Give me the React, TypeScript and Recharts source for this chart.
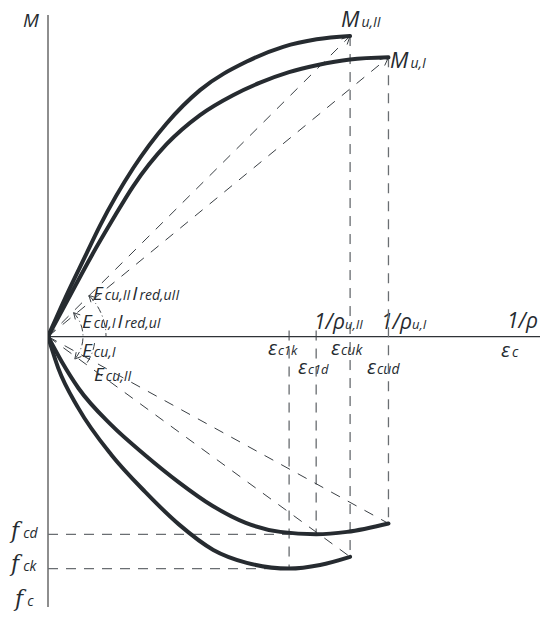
import {
  ComposedChart,
  Line,
  XAxis,
  YAxis,
  ReferenceLine,
  ReferenceDot,
  Customized,
} from 'recharts';

// curvature 1/ρ (x) against moment M (upper branches)
const kappaII = [0, 3.5, 7.5, 10.6, 17.3, 24.1, 30.9, 40.4, 47.8, 54.6, 61.4];
const momentII = [0, 12.8, 26.5, 37.0, 56.0, 70.9, 82.0, 91.5, 96.4, 98.9, 100.0];

const kappaI = [0, 4.1, 8.9, 13.0, 17.3, 24.1, 30.9, 37.7, 43.1, 49.0, 54.6, 61.4, 69.2];
const momentI = [0, 12.5, 27.0, 38.5, 50.0, 64.0, 73.7, 80.4, 84.5, 88.0, 90.3, 92.2, 92.9];

// strain ε_c (x) against concrete stress (negative = below the axis)
const strainD = [0, 2.8, 6.2, 12.9, 19.7, 26.6, 33.4, 40.2, 47.2, 54.5, 60.8, 69.2];
const stressD = [0, -8.4, -17.2, -29.5, -39.4, -48.5, -56.3, -62.0, -65.0, -65.8, -65.0, -62.2];

const strainK = [0, 2.1, 6.2, 12.9, 19.7, 26.6, 33.6, 40.4, 49.0, 55.3, 61.4];
const stressK = [0, -10.6, -23.9, -39.4, -51.6, -62.5, -71.0, -75.3, -77.2, -76.0, -73.3];

// characteristic points
const epsC1k = 49.0;
const epsC1d = 54.5;
const fcd = -65.8;
const fck = -77.2;

const toRows = (xs: number[], ys: number[]) => xs.map((x, i) => ({ x, y: ys[i] }));

const curveII = toRows(kappaII, momentII);
const curveI = toRows(kappaI, momentI);
const curveD = toRows(strainD, stressD);
const curveK = toRows(strainK, stressK);

const last = (rows: { x: number; y: number }[]) => rows[rows.length - 1];

const INK = '#262b30';
const DASH = '#3a3f44';
const FONT = '"Open Sans", "DejaVu Sans", sans-serif';

const ArrowSegment = (props: any) => {
  const { x1, y1, x2, y2 } = props;
  const a = Math.atan2(y2 - y1, x2 - x1);
  const len = 9;
  const h1 = { x: x2 - len * Math.cos(a - 0.45), y: y2 - len * Math.sin(a - 0.45) };
  const h2 = { x: x2 - len * Math.cos(a + 0.45), y: y2 - len * Math.sin(a + 0.45) };
  return (
    <g stroke={DASH} strokeWidth={1} fill="none">
      <line x1={x1} y1={y1} x2={x2} y2={y2} strokeDasharray="10 9" />
      <polyline points={`${h1.x},${h1.y} ${x2},${y2} ${h2.x},${h2.y}`} />
    </g>
  );
};

const arcPath = (cx: number, cy: number, r: number, fromDeg: number, toDeg: number) => {
  const p = (d: number) => {
    const t = (d * Math.PI) / 180;
    return `${cx + r * Math.cos(t)},${cy - r * Math.sin(t)}`;
  };
  const sweep = fromDeg > toDeg ? 1 : 0;
  return `M${p(fromDeg)} A${r},${r} 0 0 ${sweep} ${p(toDeg)}`;
};

const tip = (cx: number, cy: number, r: number, deg: number, dir: number) => {
  const t = (deg * Math.PI) / 180;
  const x = cx + r * Math.cos(t);
  const y = cy - r * Math.sin(t);
  const tx = -Math.sin(t) * dir;
  const ty = -Math.cos(t) * dir;
  const a = Math.atan2(ty, tx);
  const l = 7;
  return `${x - l * Math.cos(a - 0.5)},${y - l * Math.sin(a - 0.5)} ${x},${y} ${x - l * Math.cos(a + 0.5)},${y - l * Math.sin(a + 0.5)}`;
};

const OriginArcs = (props: any) => {
  const { cx, cy } = props;
  return (
    <g stroke={DASH} strokeWidth={1} fill="none">
      <path d={arcPath(cx, cy, 58, 45, 0)} strokeDasharray="7 3 1 3" />
      <polyline points={tip(cx, cy, 58, 45, 1)} />
      <path d={arcPath(cx, cy, 35, 43, -40)} strokeDasharray="7 3 1 3" />
      <polyline points={tip(cx, cy, 35, 43, 1)} />
      <polyline points={tip(cx, cy, 35, -40, -1)} />
      <path d={arcPath(cx, cy, 47, -8, -36)} strokeDasharray="7 3 1 3" />
    </g>
  );
};

const Sym = ({ x, y, main, sub, size = 19, subSize = 13, gap = 2, serif = false }: any) => (
  <text
    x={x}
    y={y}
    fill={INK}
    fontStyle="italic"
    fontFamily={serif ? '"DejaVu Serif", serif' : FONT}
    fontSize={size}
  >
    {main}
    {sub ? (
      <tspan dx={gap} fontSize={subSize} fontFamily={FONT}>
        {sub}
      </tspan>
    ) : null}
  </text>
);

const Annotations = () => (
  <g>
    <Sym x={23} y={27} main="M" size={19} />
    <Sym x={341} y={27} main="M" sub="u,II" size={22} subSize={14} />
    <Sym x={390} y={68} main="M" sub="u,I" size={22} subSize={14} />
    <Sym x={507} y={328} main="1/ρ" size={21} />
    <Sym x={314} y={329} main="1/ρ" sub="u,II" size={21} gap={0} />
    <Sym x={381} y={329} main="1/ρ" sub="u,I" size={21} gap={0} />
    <Sym x={501} y={357} main="ε" sub="c" size={20} subSize={14} />
    <Sym x={268} y={355} main="ε" sub="c1k" size={20} gap={1} />
    <Sym x={331} y={355} main="ε" sub="cuk" size={20} gap={1} subSize={14} />
    <Sym x={298} y={374} main="ε" sub="c1d" size={20} gap={1} />
    <Sym x={367} y={374} main="ε" sub="cud" size={20} gap={1} subSize={14} />
    <text x={93} y={300} fill={INK} fontStyle="italic" fontFamily={FONT} fontSize={19}>
      E<tspan dx={2} fontSize={14}>cu,II</tspan>
      <tspan dx={2} fontSize={19}>I</tspan>
      <tspan dx={2} fontSize={14}>red,uII</tspan>
    </text>
    <text x={82} y={328} fill={INK} fontStyle="italic" fontFamily={FONT} fontSize={19}>
      E<tspan dx={2} fontSize={14}>cu,I</tspan>
      <tspan dx={2} fontSize={19}>I</tspan>
      <tspan dx={2} fontSize={14}>red,uI</tspan>
    </text>
    <Sym x={82} y={357} main="E" sub="cu,I" size={19} subSize={14} />
    <Sym x={94} y={381} main="E" sub="cu,II" size={19} subSize={14} />
    <Sym x={11} y={538} main="f" sub="cd" size={22} serif gap={4} subSize={14} />
    <Sym x={11} y={571} main="f" sub="ck" size={22} serif gap={4} subSize={14} />
    <Sym x={15} y={606} main="f" sub="c" size={22} serif gap={4} subSize={14} />
  </g>
);

export default function App() {
  const pII = last(curveII);
  const pI = last(curveI);
  const pD = last(curveD);
  const pK = last(curveK);
  return (
    <div style={{ position: 'absolute', left: 0, top: 0, background: '#fff' }}>
      <ComposedChart width={542} height={617} margin={{ top: 15, right: 2, bottom: 10, left: 48 }}>
        <XAxis type="number" dataKey="x" domain={[0, 100]} hide allowDataOverflow />
        <YAxis type="number" dataKey="y" domain={[-90, 107]} hide allowDataOverflow />

        <ReferenceLine x={0} stroke="#8e8e8e" strokeWidth={2} />
        <ReferenceLine y={0} stroke="#2f3337" strokeWidth={1.3} />

        {/* projections to the axes */}
        <ReferenceLine segment={[{ x: pII.x, y: pII.y }, { x: pII.x, y: pK.y }]} stroke={DASH} strokeDasharray="10 8" />
        <ReferenceLine segment={[{ x: pI.x, y: pI.y }, { x: pI.x, y: pD.y }]} stroke="#6a6e72" strokeDasharray="10 8" strokeWidth={1.3} />
        <ReferenceLine segment={[{ x: epsC1k, y: 2 }, { x: epsC1k, y: fck }]} stroke={DASH} strokeDasharray="10 8" />
        <ReferenceLine segment={[{ x: epsC1d, y: 2 }, { x: epsC1d, y: fcd }]} stroke={DASH} strokeDasharray="10 8" />
        <ReferenceLine segment={[{ x: 0, y: fcd }, { x: epsC1d, y: fcd }]} stroke="#6a6e72" strokeDasharray="10 8" strokeWidth={1.3} />
        <ReferenceLine segment={[{ x: 0, y: fck }, { x: epsC1k, y: fck }]} stroke="#6a6e72" strokeDasharray="10 8" strokeWidth={1.3} />

        {/* secant stiffness lines */}
        <ReferenceLine segment={[{ x: 0, y: 0 }, { x: pII.x, y: pII.y }]} shape={ArrowSegment} />
        <ReferenceLine segment={[{ x: 0, y: 0 }, { x: pI.x, y: pI.y }]} shape={ArrowSegment} />
        <ReferenceLine segment={[{ x: 0, y: 0 }, { x: pD.x, y: pD.y }]} stroke={DASH} strokeDasharray="10 9" />
        <ReferenceLine segment={[{ x: 0, y: 0 }, { x: pK.x, y: pK.y }]} stroke={DASH} strokeDasharray="10 9" />

        <ReferenceDot x={0} y={0} r={0} shape={OriginArcs} />

        <Line data={curveII} dataKey="y" type="monotone" stroke={INK} strokeWidth={4} strokeLinecap="round" dot={false} isAnimationActive={false} />
        <Line data={curveI} dataKey="y" type="monotone" stroke={INK} strokeWidth={4} strokeLinecap="round" dot={false} isAnimationActive={false} />
        <Line data={curveD} dataKey="y" type="monotone" stroke={INK} strokeWidth={4} strokeLinecap="round" dot={false} isAnimationActive={false} />
        <Line data={curveK} dataKey="y" type="monotone" stroke={INK} strokeWidth={4} strokeLinecap="round" dot={false} isAnimationActive={false} />

        <Customized component={<Annotations />} />
      </ComposedChart>
    </div>
  );
}
